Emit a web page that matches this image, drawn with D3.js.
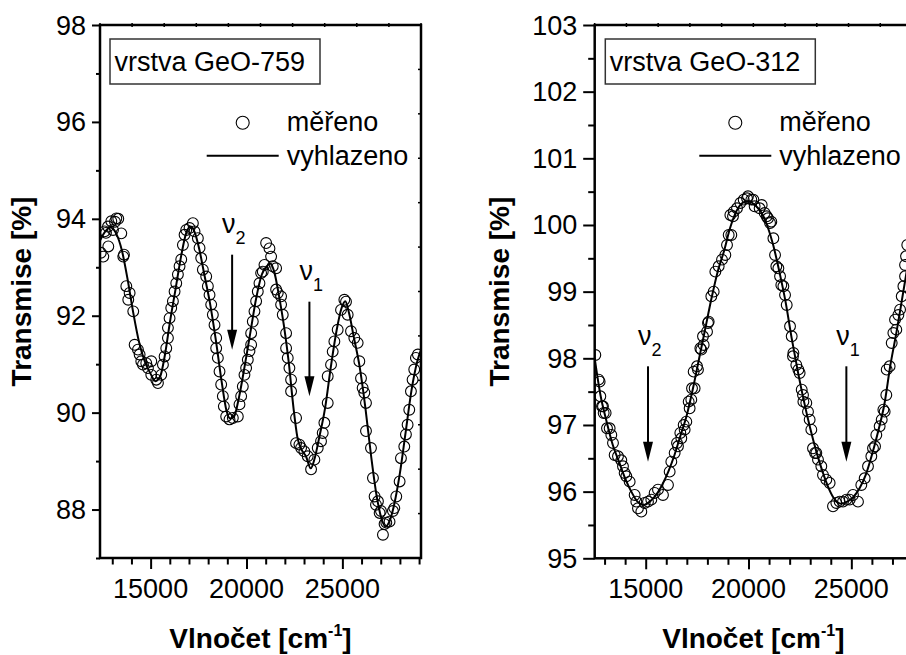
<!DOCTYPE html>
<html>
<head>
<meta charset="utf-8">
<script src="https://cdn.jsdelivr.net/npm/d3@7"></script>
<style>
  body { margin: 0; background: #fff; }
  svg text { font-family: "Liberation Sans", Arial, sans-serif; fill: #000; }
</style>
</head>
<body>
<div id="chart"></div>
<script>

// vrstva GeO-759 : measured points [wavenumber cm-1, transmission %]
const leftMeasured = [
  [12400,93.30],[12532,93.22],[12603,93.74],[12672,93.71],[12777,93.84],[12793,93.43],[12950,93.95],[13037,93.77],
  [13141,93.94],[13211,94.01],[13313,94.00],[13471,93.70],[13574,93.22],[13610,93.26],[13732,92.61],[13834,92.33],
  [13905,92.47],[14094,92.09],[14166,91.40],[14339,91.30],[14426,91.20],[14513,91.06],[14600,90.99],[14773,91.02],
  [14860,90.92],[15034,91.06],[15034,90.78],[15294,90.68],[15381,90.61],[15554,90.78],[15641,90.99],[15728,91.16],
  [15815,91.33],[15902,91.54],[15902,91.75],[15988,91.95],[16075,92.16],[16162,92.30],[16249,92.50],[16336,92.67],
  [16422,92.85],[16509,93.02],[16596,93.16],[16683,93.46],[16770,93.67],[16856,93.77],[17030,93.81],[17204,93.91],
  [17290,93.74],[17464,93.60],[17551,93.40],[17638,93.19],[17724,92.95],[17898,92.81],[17985,92.61],[18072,92.43],
  [18158,92.23],[18245,92.02],[18332,91.81],[18419,91.54],[18419,91.33],[18506,91.13],[18593,90.85],[18679,90.58],
  [18766,90.34],[18818,90.13],[18940,89.92],[19113,89.86],[19287,89.89],[19547,89.92],[19634,90.17],[19721,90.34],
  [19808,90.54],[19894,90.78],[19981,90.92],[20068,91.09],[20155,91.27],[20242,91.40],[20242,91.64],[20328,91.88],
  [20415,92.09],[20502,92.30],[20589,92.50],[20676,92.67],[20762,92.88],[20849,92.91],[20936,93.05],[21023,93.50],
  [21197,93.39],[21283,93.22],[21370,93.02],[21544,92.98],[21544,92.54],[21631,92.47],[21804,92.40],[21804,92.23],
  [21891,92.02],[22065,91.64],[22065,91.33],[22151,91.13],[22238,90.92],[22325,90.68],[22325,90.44],[22585,89.89],
  [22585,89.37],[22759,89.34],[22846,89.27],[23019,89.20],[23193,89.10],[23367,88.83],[23540,89.03],[23714,89.27],
  [23887,89.41],[23974,89.58],[24061,89.79],[24235,90.20],[24235,90.75],[24408,90.99],[24495,91.26],[24582,91.47],
  [24755,91.71],[24929,92.12],[25103,92.33],[25189,92.29],[25276,92.02],[25450,91.68],[25623,91.54],[25797,91.44],
  [25884,91.06],[25971,90.71],[26057,90.51],[26144,90.41],[26231,90.20],[26231,89.62],[26491,89.27],[26594,88.65],
  [26680,88.27],[26752,88.10],[26855,88.17],[26943,87.93],[27012,87.97],[27115,87.48],[27200,87.70],[27291,87.73],
  [27460,87.75],[27635,87.97],[27707,88.03],[27810,88.27],[27985,88.58],[28054,89.06],[28228,89.30],[28314,89.55],
  [28401,89.75],[28488,90.06],[28575,90.44],[28661,90.68],[28748,90.89],[28835,91.13],[28938,91.20]
];

// vrstva GeO-759 : smoothed curve
const leftSmooth = [
  [12360,93.55],[12600,93.72],[12900,93.82],[13200,93.70],[13500,93.35],[13800,92.75],[14100,92.05],[14400,91.45],
  [14700,91.05],[15000,90.80],[15250,90.65],[15500,90.75],[15750,91.20],[16000,91.85],[16300,92.55],[16600,93.25],
  [16850,93.70],[17100,93.84],[17300,93.72],[17550,93.35],[17800,92.85],[18100,92.25],[18400,91.50],[18700,90.65],
  [18950,90.05],[19150,89.88],[19350,89.92],[19600,90.30],[19900,90.95],[20200,91.65],[20500,92.35],[20800,92.85],
  [21050,93.02],[21250,93.08],[21450,92.90],[21700,92.40],[21950,91.80],[22200,91.05],[22450,90.10],[22650,89.50],
  [22850,89.25],[23100,89.10],[23350,88.85],[23550,89.05],[23800,89.50],[24100,90.10],[24400,90.95],[24700,91.70],
  [24950,92.15],[25150,92.30],[25350,92.05],[25600,91.55],[25900,90.95],[26200,90.10],[26500,89.10],[26800,88.25],
  [27050,87.80],[27250,87.65],[27450,87.75],[27700,88.10],[28000,88.75],[28300,89.60],[28600,90.45],[28900,91.05],
  [29150,91.35]
];

// vrstva GeO-312 : measured points
const rightMeasured = [
  [12551,98.05],[12713,97.68],[12760,97.65],[12794,97.43],[12875,97.28],[12922,97.28],[12956,97.18],[13052,97.18],
  [13118,96.95],[13247,96.95],[13328,96.85],[13409,96.73],[13490,96.55],[13652,96.53],[13814,96.47],[13895,96.38],
  [13976,96.28],[14058,96.23],[14220,96.15],[14463,95.95],[14544,95.85],[14625,95.75],[14787,95.70],[14949,95.83],
  [15111,95.85],[15273,95.88],[15435,95.98],[15597,96.03],[15840,95.95],[16083,96.10],[16165,96.30],[16246,96.45],
  [16408,96.58],[16522,96.73],[16570,96.68],[16684,96.88],[16732,96.80],[16847,97.00],[16894,96.93],[16975,97.05],
  [17090,97.35],[17137,97.25],[17218,97.38],[17252,97.55],[17333,97.80],[17380,97.55],[17495,97.88],[17542,97.83],
  [17657,98.15],[17705,98.13],[17786,98.33],[17819,98.20],[17982,98.40],[18029,98.53],[18063,98.55],[18191,98.93],
  [18306,99.00],[18387,99.30],[18549,99.38],[18711,99.48],[18873,99.55],[18954,99.70],[19035,99.85],[19164,99.85],
  [19117,100.15],[19245,100.13],[19279,100.20],[19440,100.25],[19603,100.33],[19765,100.38],[19927,100.40],[19974,100.43],
  [20136,100.38],[20236,100.38],[20298,100.28],[20541,100.25],[20641,100.30],[20784,100.18],[20885,100.13],[20946,100.10],
  [21047,100.03],[21109,100.05],[21209,99.80],[21290,99.55],[21352,99.38],[21452,99.35],[21533,99.23],[21595,99.10],
  [21695,99.08],[21776,98.95],[21857,98.80],[22019,98.48],[22100,98.33],[22162,98.03],[22182,98.08],[22324,97.90],
  [22425,97.83],[22486,97.78],[22587,97.53],[22649,97.45],[22668,97.35],[22810,97.33],[22892,97.20],[22973,97.08],
  [23054,96.93],[23135,96.65],[23235,96.58],[23297,96.58],[23378,96.48],[23540,96.38],[23621,96.25],[23783,96.18],
  [23945,96.13],[24108,95.78],[24270,95.83],[24432,95.85],[24594,95.85],[24756,95.88],[24918,95.88],[25080,95.95],
  [25323,95.85],[25485,96.10],[25648,96.20],[25810,96.38],[25972,96.53],[26053,96.65],[26153,96.68],[26215,96.85],
  [26377,96.98],[26477,97.08],[26558,97.23],[26620,97.20],[26701,97.45],[26720,97.83],[26863,97.88],[26963,98.23],
  [27044,98.38],[27125,98.58],[27187,98.43],[27287,98.65],[27369,98.73],[27450,98.93],[27531,99.08],[27612,99.23],
  [27612,99.40],[27660,99.53],[27720,99.70]
];

// vrstva GeO-312 : smoothed curve
const rightSmooth = [
  [12520,98.00],[12800,97.45],[13100,97.05],[13400,96.70],[13700,96.45],[14000,96.20],[14300,96.00],[14600,95.85],
  [14900,95.80],[15200,95.85],[15500,95.95],[15800,96.10],[16100,96.30],[16400,96.55],[16700,96.85],[17000,97.15],
  [17300,97.55],[17600,98.00],[17900,98.45],[18200,98.90],[18500,99.30],[18800,99.60],[19100,99.95],[19400,100.20],
  [19700,100.33],[20000,100.36],[20300,100.30],[20600,100.20],[20900,100.00],[21200,99.70],[21500,99.30],[21800,98.85],
  [22100,98.30],[22400,97.80],[22700,97.35],[23000,96.95],[23300,96.60],[23600,96.30],[23900,96.05],[24200,95.88],
  [24500,95.82],[24800,95.85],[25100,95.92],[25400,96.05],[25700,96.25],[26000,96.55],[26300,96.90],[26600,97.30],
  [26900,97.90],[27200,98.40],[27500,98.95],[27800,99.50],[28000,99.85]
];

const xMajor = [15000, 20000, 25000]
const leftYTicks = [88, 90, 92, 94, 96, 98]
const rightYTicks = [95, 96, 97, 98, 99, 100, 101, 102, 103]

const sampleNames = ["vrstva GeO-759", "vrstva GeO-312"]
const legendNames = ["měřeno", "vyhlazeno"]

// arrows: [wavenumber, label T, arrow start T, arrow tip T, subscript]
const leftArrows = [[19250, 93.71, 93.26, 91.30, "2"], [23281, 92.74, 92.29, 90.34, "1"]]
const rightArrows = [[15113, 98.20, 97.88, 96.45, "2"], [24758, 98.20, 97.88, 96.45, "1"]]

const width = 906, height = 655

const svg = d3.select("#chart").append("svg")
    .attr("width", width)
    .attr("height", height)

function drawPanel(cfg) {

    const x = d3.scaleLinear().domain(cfg.xDomain).range([cfg.left, cfg.right])
    const y = d3.scaleLinear().domain(cfg.yDomain).range([cfg.bottom, cfg.top])

    const g = svg.append("g")

    const clipId = "clip" + cfg.id
    g.append("clipPath").attr("id", clipId)
        .append("rect")
        .attr("x", cfg.left).attr("y", cfg.top)
        .attr("width", cfg.right - cfg.left).attr("height", cfg.bottom - cfg.top)

    // minor / major ticks
    const xMinor = d3.range(13000, cfg.xDomain[1], 1000).filter(d => xMajor.indexOf(d) < 0)
    const yMinor = d3.range(Math.ceil(cfg.yDomain[0] / cfg.yMinorStep) * cfg.yMinorStep, cfg.yDomain[1], cfg.yMinorStep)
        .filter(d => cfg.yTicks.indexOf(d) < 0)

    g.append("g")
        .attr("transform", `translate(0,${cfg.bottom})`)
        .call(d3.axisBottom(x).tickValues(xMinor).tickSize(6.5).tickFormat("").tickSizeOuter(0))
    g.append("g")
        .attr("transform", `translate(0,${cfg.bottom})`)
        .call(d3.axisBottom(x).tickValues(xMajor).tickSize(11).tickFormat("").tickSizeOuter(0))
    g.append("g")
        .attr("transform", `translate(${cfg.left},0)`)
        .call(d3.axisLeft(y).tickValues(yMinor).tickSize(cfg.yMinorLen).tickFormat("").tickSizeOuter(0))
    g.append("g")
        .attr("transform", `translate(${cfg.left},0)`)
        .call(d3.axisLeft(y).tickValues(cfg.yTicks).tickSize(cfg.yMajorLen).tickFormat("").tickSizeOuter(0))

    g.selectAll(".domain").remove()
    g.selectAll(".tick line").attr("stroke", "#000").attr("stroke-width", 2)

    // top and right frame with little ticks
    const topTicks = d3.range(11).map(i => cfg.left + i * (cfg.right - cfg.left) / 10)
    g.selectAll(".topTick").data(topTicks).enter().append("line")
        .attr("x1", d => d).attr("x2", d => d)
        .attr("y1", cfg.top - 2).attr("y2", cfg.top + 2)
        .attr("stroke", "#000").attr("stroke-width", 1.5)
    const rightTicks = d3.range(13).map(i => cfg.top + i * (cfg.bottom - cfg.top) / 12)
    g.selectAll(".rightTick").data(rightTicks).enter().append("line")
        .attr("x1", cfg.right - 3).attr("x2", cfg.right)
        .attr("y1", d => d).attr("y2", d => d)
        .attr("stroke", "#000").attr("stroke-width", 1.5)

    g.append("rect")
        .attr("x", cfg.left).attr("y", cfg.top)
        .attr("width", cfg.right - cfg.left).attr("height", cfg.bottom - cfg.top)
        .attr("fill", "none").attr("stroke", "#000").attr("stroke-width", 2.5)

    // tick labels
    g.selectAll(".xLabel").data(xMajor).enter().append("text")
        .attr("x", d => x(d)).attr("y", cfg.bottom + 40)
        .attr("text-anchor", "middle")
        .style("font-size", "27px")
        .text(d => d)

    g.selectAll(".yLabel").data(cfg.yTicks).enter().append("text")
        .attr("x", cfg.left - cfg.yMajorLen - 6).attr("y", d => y(d) + 9.5)
        .attr("text-anchor", "end")
        .style("font-size", "27px")
        .text(d => d)

    // axis titles
    const xt = g.append("text")
        .attr("x", (cfg.left + cfg.right) / 2).attr("y", 648)
        .attr("text-anchor", "middle")
        .style("font-size", "28px").style("font-weight", "bold")
    xt.append("tspan").text("Vlnočet [cm")
    xt.append("tspan").text("-1").style("font-size", "16px").attr("dy", -12)
    xt.append("tspan").text("]").attr("dy", 12)

    g.append("text")
        .attr("transform", `translate(${cfg.titleX},${(cfg.top + cfg.bottom) / 2}) rotate(-90)`)
        .attr("text-anchor", "middle")
        .style("font-size", "28px").style("font-weight", "bold")
        .text("Transmise [%]")

    // data
    const plot = g.append("g").attr("clip-path", `url(#${clipId})`)

    const line = d3.line()
        .x(d => x(d[0]))
        .y(d => y(d[1]))
        .curve(d3.curveMonotoneX)

    plot.selectAll(".pt").data(cfg.measured).enter().append("circle")
        .attr("cx", d => x(d[0]))
        .attr("cy", d => y(d[1]))
        .attr("r", 5.4)
        .attr("fill", "none")
        .attr("stroke", "#000")
        .attr("stroke-width", 1.1)

    plot.append("path")
        .datum(cfg.smooth)
        .attr("d", line)
        .attr("fill", "none")
        .attr("stroke", "#000")
        .attr("stroke-width", 2)

    // arrows
    cfg.arrows.forEach(a => {
        const ax = x(a[0])
        const tip = y(a[3])
        g.append("line")
            .attr("x1", ax).attr("x2", ax)
            .attr("y1", y(a[2])).attr("y2", tip - 10)
            .attr("stroke", "#000").attr("stroke-width", 2)
        g.append("path")
            .attr("d", `M${ax - 5},${tip - 20} L${ax + 5},${tip - 20} L${ax},${tip} Z`)
            .attr("fill", "#000")
        const lab = g.append("text")
            .attr("x", ax - 10).attr("y", y(a[1]))
            .style("font-size", "27px")
        lab.append("tspan").text("ν")
        lab.append("tspan").text(a[4]).style("font-size", "18px").attr("dy", 11)
    })

    // sample label box
    g.append("rect")
        .attr("x", cfg.boxX).attr("y", 39)
        .attr("width", 210).attr("height", 45)
        .attr("fill", "#fff").attr("stroke", "#333").attr("stroke-width", 1.5)
    g.append("text")
        .attr("x", cfg.boxX + 4.5).attr("y", 71)
        .style("font-size", "27px")
        .text(cfg.name)

    // legend
    g.append("circle")
        .attr("cx", cfg.legX).attr("cy", 122.7).attr("r", 6.5)
        .attr("fill", "none").attr("stroke", "#000").attr("stroke-width", 1.1)
    g.append("text")
        .attr("x", cfg.legX + 44).attr("y", 131)
        .style("font-size", "27px")
        .text(legendNames[0])
    g.append("line")
        .attr("x1", cfg.legX - 36).attr("x2", cfg.legX + 36)
        .attr("y1", 155.7).attr("y2", 155.7)
        .attr("stroke", "#000").attr("stroke-width", 2)
    g.append("text")
        .attr("x", cfg.legX + 44).attr("y", 165)
        .style("font-size", "27px")
        .text(legendNames[1])
}

drawPanel({
    id: "L", name: sampleNames[0],
    left: 100, right: 421, top: 25, bottom: 558,
    xDomain: [12360, 29100], yDomain: [87, 98],
    yTicks: leftYTicks, yMinorStep: 1, yMajorLen: 8, yMinorLen: 4,
    titleX: 31, boxX: 110, legX: 242.7,
    measured: leftMeasured, smooth: leftSmooth, arrows: leftArrows
})

drawPanel({
    id: "R", name: sampleNames[1],
    left: 594.7, right: 912, top: 25, bottom: 558.3,
    xDomain: [12520, 27950], yDomain: [95, 103],
    yTicks: rightYTicks, yMinorStep: 0.5, yMajorLen: 11.5, yMinorLen: 6.5,
    titleX: 509, boxX: 605.3, legX: 735.3,
    measured: rightMeasured, smooth: rightSmooth, arrows: rightArrows
})

</script>
</body>
</html>
